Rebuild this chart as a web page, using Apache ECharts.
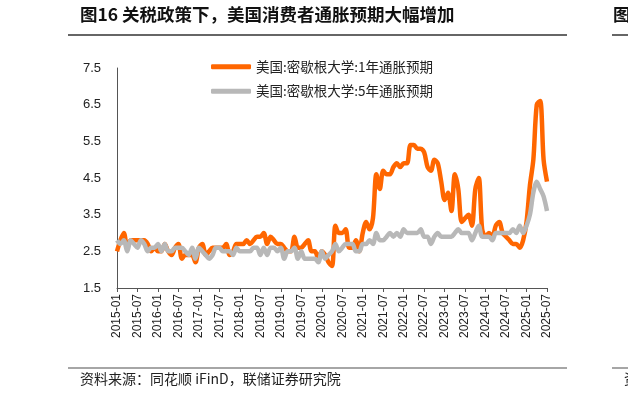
<!DOCTYPE html>
<html>
<head>
<meta charset="utf-8">
<style>
  html, body { margin: 0; padding: 0; background: #fff; }
  #main { width: 628px; height: 399px; }
</style>
<script src="https://cdn.jsdelivr.net/npm/echarts@6/dist/echarts.min.js"></script>
</head>
<body>
<div id="main"></div>
<script>
// 月份：2015-01 至 2025-07
var months = [];
for (var y = 2015; y <= 2025; y++) {
  for (var m = 1; m <= 12; m++) {
    if (y === 2025 && m > 7) break;
    months.push(y + '-' + (m < 10 ? '0' + m : m));
  }
}

// 1年通胀预期
var oneYear = [
  2.5, 2.8, 3.0, 2.6, 2.8, 2.8, 2.8, 2.8, 2.8, 2.7, 2.5, 2.6,
  2.5, 2.5, 2.7, 2.5, 2.4, 2.6, 2.7, 2.3, 2.4, 2.4, 2.4, 2.2,
  2.6, 2.7, 2.4, 2.5, 2.6, 2.6, 2.6, 2.6, 2.7, 2.4, 2.5, 2.7,
  2.7, 2.7, 2.8, 2.7, 2.8, 2.9, 2.9, 3.0, 2.7, 2.9, 2.8, 2.7,
  2.7, 2.6, 2.5, 2.5, 2.9, 2.6, 2.6, 2.7, 2.8, 2.5, 2.5, 2.3,
  2.5, 2.4, 2.2, 2.1, 3.2, 3.0, 3.0, 3.1, 2.6, 2.6, 2.8, 2.5,
  3.0, 3.3, 3.1, 3.4, 4.6, 4.2, 4.7, 4.6, 4.6, 4.8, 4.9, 4.8,
  4.9, 4.9, 5.4, 5.4, 5.3, 5.3, 5.2, 4.8, 4.7, 5.0, 4.9, 4.4,
  3.9, 4.1, 3.6, 4.6, 4.2, 3.3, 3.4, 3.5, 3.2, 4.2, 4.5, 3.1,
  2.9, 3.0, 2.9, 3.2, 3.3, 3.0, 2.9, 2.8, 2.7, 2.7, 2.6, 2.8,
  3.3, 4.3, 5.0, 6.5, 6.6, 5.0, 4.4
];

// 5年通胀预期
var fiveYear = [
  2.8, 2.7, 2.8, 2.5, 2.8, 2.7, 2.6, 2.8, 2.7, 2.5, 2.6, 2.6,
  2.7, 2.5, 2.7, 2.5, 2.5, 2.6, 2.6, 2.6, 2.5, 2.4, 2.6, 2.3,
  2.6, 2.5, 2.4, 2.3, 2.4, 2.6, 2.6, 2.5, 2.5, 2.5, 2.4, 2.6,
  2.5, 2.5, 2.5, 2.5, 2.6, 2.6, 2.4, 2.6, 2.4, 2.6, 2.6, 2.5,
  2.6, 2.3, 2.5, 2.5, 2.6, 2.3, 2.5, 2.3, 2.3, 2.3, 2.3, 2.2,
  2.5, 2.3, 2.4, 2.5, 2.7, 2.5, 2.6, 2.7, 2.7, 2.7, 2.5, 2.5,
  2.7, 2.7, 2.8, 2.7, 3.0, 2.8, 2.8, 2.9, 3.0, 2.9, 3.0, 2.9,
  3.1, 3.0, 3.0, 3.0, 3.0, 3.1, 2.9, 2.9, 2.7, 2.9, 3.0, 2.9,
  2.9, 2.9, 2.9, 3.0, 3.1, 3.0, 3.0, 3.0, 2.8, 3.0, 3.2, 2.9,
  2.9, 2.9, 2.8, 3.0, 3.0, 3.0, 3.0, 3.0, 3.1, 3.0, 3.2, 3.0,
  3.2, 3.5, 4.1, 4.4, 4.2, 4.0, 3.6
];

var seriesNames = ['美国:密歇根大学:1年通胀预期', '美国:密歇根大学:5年通胀预期'];
var titleText = '图16 关税政策下，美国消费者通胀预期大幅增加';
var sourceText = '资料来源：同花顺 iFinD，联储证券研究院';

var chart = echarts.init(document.getElementById('main'));

var option = {
  backgroundColor: '#fff',
  animation: false,
  grid: { left: 117, top: 68, right: 81, bottom: 111 },
  legend: {
    orient: 'vertical',
    left: 206,
    top: 55,
    itemWidth: 40,
    itemHeight: 5,
    itemGap: 11,
    icon: 'roundRect',
    textStyle: { fontFamily: 'Noto Sans CJK SC', fontSize: 13.5, color: '#222' },
    data: seriesNames
  },
  xAxis: {
    type: 'category',
    boundaryGap: false,
    data: months,
    axisLine: { lineStyle: { color: '#555', width: 1 } },
    axisTick: { interval: 5, length: 4, lineStyle: { color: '#555' } },
    axisLabel: {
      interval: 5,
      rotate: 90,
      fontFamily: 'Liberation Sans',
      fontSize: 12,
      color: '#222',
      margin: 6
    },
    splitLine: { show: false }
  },
  yAxis: {
    type: 'value',
    min: 1.5,
    max: 7.5,
    interval: 1,
    axisLine: { show: true, lineStyle: { color: '#555', width: 1 } },
    axisTick: { show: false },
    axisLabel: {
      fontFamily: 'Liberation Sans',
      fontSize: 13,
      color: '#222',
      margin: 16,
      formatter: function (v) { return v.toFixed(1); }
    },
    splitLine: { show: false }
  },
  series: [{
    name: seriesNames[0],
    type: 'line',
    data: oneYear,
    symbol: 'none',
    smooth: 0.3,
    color: '#FF6600',
    lineStyle: { width: 4.5, color: '#FF6600' }
  }, {
    name: seriesNames[1],
    type: 'line',
    data: fiveYear,
    symbol: 'none',
    smooth: 0.3,
    color: '#B8B8B8',
    lineStyle: { width: 4.5, color: '#B8B8B8' }
  }],
  graphic: [
    {
      type: 'text', left: 80, top: 6,
      style: { text: titleText, font: 'bold 17.5px "Noto Sans CJK SC"', fill: '#111' }
    },
    {
      type: 'line', shape: { x1: 68, y1: 35, x2: 567, y2: 35 },
      style: { stroke: '#333', lineWidth: 1.5 }
    },
    {
      type: 'line', shape: { x1: 612, y1: 35, x2: 628, y2: 35 },
      style: { stroke: '#333', lineWidth: 1.5 }
    },
    {
      type: 'text', left: 613, top: 6,
      style: { text: '图', font: 'bold 17.5px "Noto Sans CJK SC"', fill: '#111' }
    },
    {
      type: 'line', shape: { x1: 68, y1: 368, x2: 567, y2: 368 },
      style: { stroke: '#888', lineWidth: 1.5 }
    },
    {
      type: 'line', shape: { x1: 612, y1: 368, x2: 628, y2: 368 },
      style: { stroke: '#888', lineWidth: 1.5 }
    },
    {
      type: 'text', left: 80, top: 372,
      style: { text: sourceText, font: '14px "Noto Sans CJK SC"', fill: '#222' }
    },
    {
      type: 'text', left: 624, top: 372,
      style: { text: '资', font: '14px "Noto Sans CJK SC"', fill: '#222' }
    }
  ]
};

chart.setOption(option);
</script>
</body>
</html>
